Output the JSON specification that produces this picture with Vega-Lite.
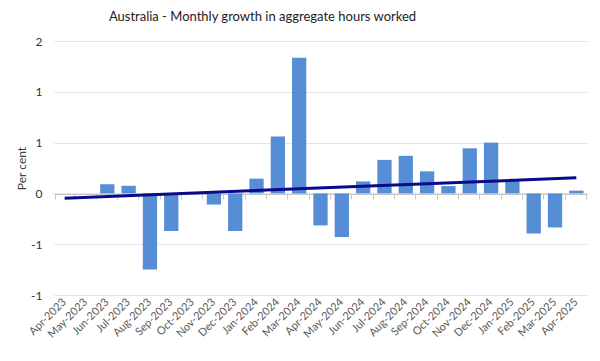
{
  "$schema": "https://vega.github.io/schema/vega-lite/v6.json",
  "width": 533,
  "height": 254,
  "autosize": {"type": "none"},
  "padding": {"left": 54, "top": 41, "right": 13, "bottom": 66},
  "background": "white",
  "config": {
    "font": "Lato",
    "view": {"stroke": null},
    "axis": {"labelFont": "Lato", "titleFont": "Lato", "labelColor": "#595959", "titleColor": "#404040"}
  },
  "title": {
    "text": "Australia - Monthly growth in aggregate hours worked",
    "fontSize": 13,
    "fontWeight": "normal",
    "font": "Lato",
    "color": "#222222",
    "anchor": "middle",
    "dx": -58,
    "offset": 11
  },
  "data": {
    "values": [
      {"month": "Apr-2023", "value": 0.0},
      {"month": "May-2023", "value": 0.0},
      {"month": "Jun-2023", "value": 0.09},
      {"month": "Jul-2023", "value": 0.075},
      {"month": "Aug-2023", "value": -0.75},
      {"month": "Sep-2023", "value": -0.37},
      {"month": "Oct-2023", "value": 0.0},
      {"month": "Nov-2023", "value": -0.11},
      {"month": "Dec-2023", "value": -0.37},
      {"month": "Jan-2024", "value": 0.145},
      {"month": "Feb-2024", "value": 0.56},
      {"month": "Mar-2024", "value": 1.335},
      {"month": "Apr-2024", "value": -0.315},
      {"month": "May-2024", "value": -0.43},
      {"month": "Jun-2024", "value": 0.118},
      {"month": "Jul-2024", "value": 0.33},
      {"month": "Aug-2024", "value": 0.37},
      {"month": "Sep-2024", "value": 0.217},
      {"month": "Oct-2024", "value": 0.072},
      {"month": "Nov-2024", "value": 0.444},
      {"month": "Dec-2024", "value": 0.5},
      {"month": "Jan-2025", "value": 0.13},
      {"month": "Feb-2025", "value": -0.395},
      {"month": "Mar-2025", "value": -0.335},
      {"month": "Apr-2025", "value": 0.027}
    ]
  },
  "layer": [
    {
      "mark": {"type": "bar", "color": "#558ed5"},
      "encoding": {
        "x": {
          "field": "month", "type": "ordinal", "sort": null,
          "scale": {"paddingInner": 0.33, "paddingOuter": 0.165},
          "axis": {"orient": "bottom", "title": null, "labelAngle": -45, "labelAlign": "right", "labelBaseline": "middle", "labelFontSize": 11, "labelPadding": 5, "domain": false, "ticks": false, "grid": false}
        },
        "y": {
          "field": "value", "type": "quantitative",
          "scale": {"domain": [-1, 1.5], "nice": false, "zero": false},
          "axis": {
            "title": "Per cent", "titleFontSize": 12, "titleFontWeight": "normal", "titlePadding": 2,
            "values": [-1, -0.5, 0, 0.5, 1, 1.5],
            "labelExpr": "datum.value < 0 ? '-' + format(-datum.value, '.0f') : format(datum.value, '.0f')",
            "labelFontSize": 12, "labelPadding": 12, "labelColor": "#333333",
            "domain": false, "ticks": false, "grid": true, "gridColor": "#e3e3e3", "gridWidth": 1
          }
        }
      }
    },
    {
      "mark": {"type": "bar", "opacity": 0},
      "encoding": {
        "x": {
          "field": "month", "type": "ordinal", "sort": null,
          "axis": {"orient": "bottom", "offset": -101, "title": null, "labels": false, "domain": true, "domainColor": "#c8c8c8", "ticks": true, "tickBand": "extent", "tickColor": "#c8c8c8", "tickSize": 5, "grid": false}
        },
        "y": {"field": "value", "type": "quantitative"}
      }
    },
    {
      "transform": [
        {"window": [{"op": "row_number", "as": "idx"}]},
        {"regression": "value", "on": "idx", "extent": [1, 25]}
      ],
      "mark": {"type": "line", "color": "#0a0a8a", "strokeWidth": 3},
      "encoding": {
        "x": {"field": "idx", "type": "quantitative", "scale": {"domain": [0.5, 25.5], "nice": false, "zero": false}, "axis": null},
        "y": {"field": "value", "type": "quantitative"}
      }
    }
  ],
  "resolve": {"scale": {"x": "independent"}, "axis": {"x": "independent"}}
}
